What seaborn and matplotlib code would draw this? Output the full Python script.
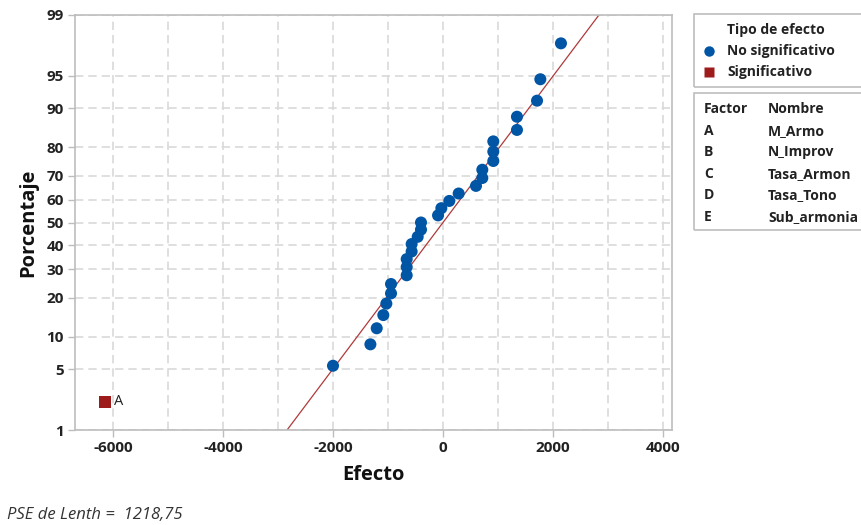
import statistics
import numpy as np
import pandas as pd
import matplotlib
matplotlib.use("Agg")
import matplotlib.pyplot as plt
import seaborn as sns
from matplotlib.patches import Rectangle
from matplotlib.lines import Line2D
from matplotlib.ticker import MultipleLocator, FixedLocator

# ---------------- data ----------------
effects = [-6150, -2000, -1320, -1205, -1085, -1030, -945, -945, -660, -660,
           -660, -570, -570, -460, -400, -400, -90, -30, 115, 285,
           600, 715, 715, 915, 915, 915, 1345, 1345, 1710, 1770, 2145]
significant_labels = ["A"]          # label of the significant effect (lowest)
pse_lenth = 1218.75
y_ticks_pct = [1, 5, 10, 20, 30, 40, 50, 60, 70, 80, 90, 95, 99]
x_ticks = [-6000, -4000, -2000, 0, 2000, 4000]
factors = ["A", "B", "C", "D", "E"]
names = ["M_Armo", "N_Improv", "Tasa_Armon", "Tasa_Tono", "Sub_armonia"]

nd = statistics.NormalDist()
n = len(effects)
eff_sorted = sorted(effects)
pct = [(i + 1 - 0.3) / (n + 0.4) for i in range(n)]
z = [nd.inv_cdf(p) for p in pct]
tipo = ["Significativo" if i == 0 else "No significativo" for i in range(n)]
df = pd.DataFrame({"Efecto": eff_sorted, "z": z, "Tipo": tipo})

blue = "#0055A5"
red = "#9E1B1B"
line_col = "#B03A3A"
grid_col = "#D9D9D9"
spine_col = "#BDBDBD"

sns.set_theme(style="white")
plt.rcParams["font.family"] = ["Open Sans", "DejaVu Sans"]

fig = plt.figure(figsize=(8.61, 5.25), dpi=100)
W, H = 861, 525
ax = fig.add_axes([75 / W, 1 - 430 / H, (672 - 75) / W, (430 - 15) / H])

# fitted line (mean 0, sd = PSE)
zl = np.linspace(nd.inv_cdf(0.01), nd.inv_cdf(0.99), 50)
ax.plot(zl * pse_lenth, zl, color=line_col, lw=0.9, zorder=2)

sns.scatterplot(data=df, x="Efecto", y="z", hue="Tipo", style="Tipo",
                hue_order=["No significativo", "Significativo"],
                style_order=["No significativo", "Significativo"],
                palette={"No significativo": blue, "Significativo": red},
                markers={"No significativo": "o", "Significativo": "s"},
                s=75, edgecolor="none", linewidth=0, ax=ax, legend=False, zorder=3)

ax.annotate(significant_labels[0], (eff_sorted[0], z[0]), xytext=(7, 0),
            textcoords="offset points", va="center", ha="left",
            fontsize=10.5, color="#222222")

ax.set_xlim(-6691, 4164)
ax.set_ylim(nd.inv_cdf(0.01), nd.inv_cdf(0.99))
ax.xaxis.set_major_locator(FixedLocator(x_ticks))
ax.xaxis.set_minor_locator(MultipleLocator(1000))
ax.set_yticks([nd.inv_cdf(p / 100) for p in y_ticks_pct])
ax.set_yticklabels([str(p) for p in y_ticks_pct])
ax.set_xticklabels([str(t) for t in x_ticks])

ax.grid(True, which="both", axis="x", color=grid_col, ls=(0, (5, 3)), lw=1.2)
ax.grid(True, which="major", axis="y", color=grid_col, ls=(0, (5, 3)), lw=1.2)
ax.set_axisbelow(True)
for s in ax.spines.values():
    s.set_color(spine_col)
    s.set_linewidth(1.2)
ax.tick_params(axis="both", which="major", direction="out", length=5, width=1,
               color=spine_col, labelsize=11, labelcolor="#222222", pad=3,
               left=True, bottom=True)
ax.tick_params(axis="x", which="minor", length=0)
for lab in ax.get_xticklabels() + ax.get_yticklabels():
    lab.set_fontweight("bold")

ax.set_xlabel("Efecto", fontsize=14.5, fontweight="bold", color="#111111", labelpad=7)
ax.set_ylabel("Porcentaje", fontsize=14.5, fontweight="bold", color="#111111", labelpad=6)

# ---------------- legend boxes (figure pixels) ----------------
def fx(px):
    return px / W

def fy(py):
    return 1 - py / H

fig.patches.append(Rectangle((fx(694), fy(87)), fx(880) - fx(694), fy(14) - fy(87),
                             transform=fig.transFigure, fill=False,
                             edgecolor=spine_col, lw=1.2))
fig.patches.append(Rectangle((fx(694), fy(230)), fx(880) - fx(694), fy(93) - fy(230),
                             transform=fig.transFigure, fill=False,
                             edgecolor=spine_col, lw=1.2))
tkw = dict(transform=fig.transFigure, fontsize=10, fontweight="bold",
           color="#222222", va="center")
fig.text(fx(727), fy(30), "Tipo de efecto", **tkw)
fig.text(fx(727), fy(51), "No significativo", **tkw)
fig.text(fx(727), fy(72), "Significativo", **tkw)
fig.lines.append(Line2D([fx(709)], [fy(51)], marker="o", ms=7.5, color=blue,
                        mec="none", transform=fig.transFigure))
fig.lines.append(Line2D([fx(709)], [fy(72)], marker="s", ms=7.5, color=red,
                        mec="none", transform=fig.transFigure))

fig.text(fx(704), fy(109), "Factor", **tkw)
fig.text(fx(768), fy(109), "Nombre", **tkw)
row_y = [131, 152, 174, 195, 217]
for f, nm, yy in zip(factors, names, row_y):
    fig.text(fx(704), fy(yy), f, **tkw)
    fig.text(fx(768), fy(yy), nm, **tkw)

fig.text(fx(7), fy(515), "PSE de Lenth =  1218,75", transform=fig.transFigure,
         fontsize=12, style="italic", color="#333333", va="center")

fig.savefig("out.png", dpi=100)
